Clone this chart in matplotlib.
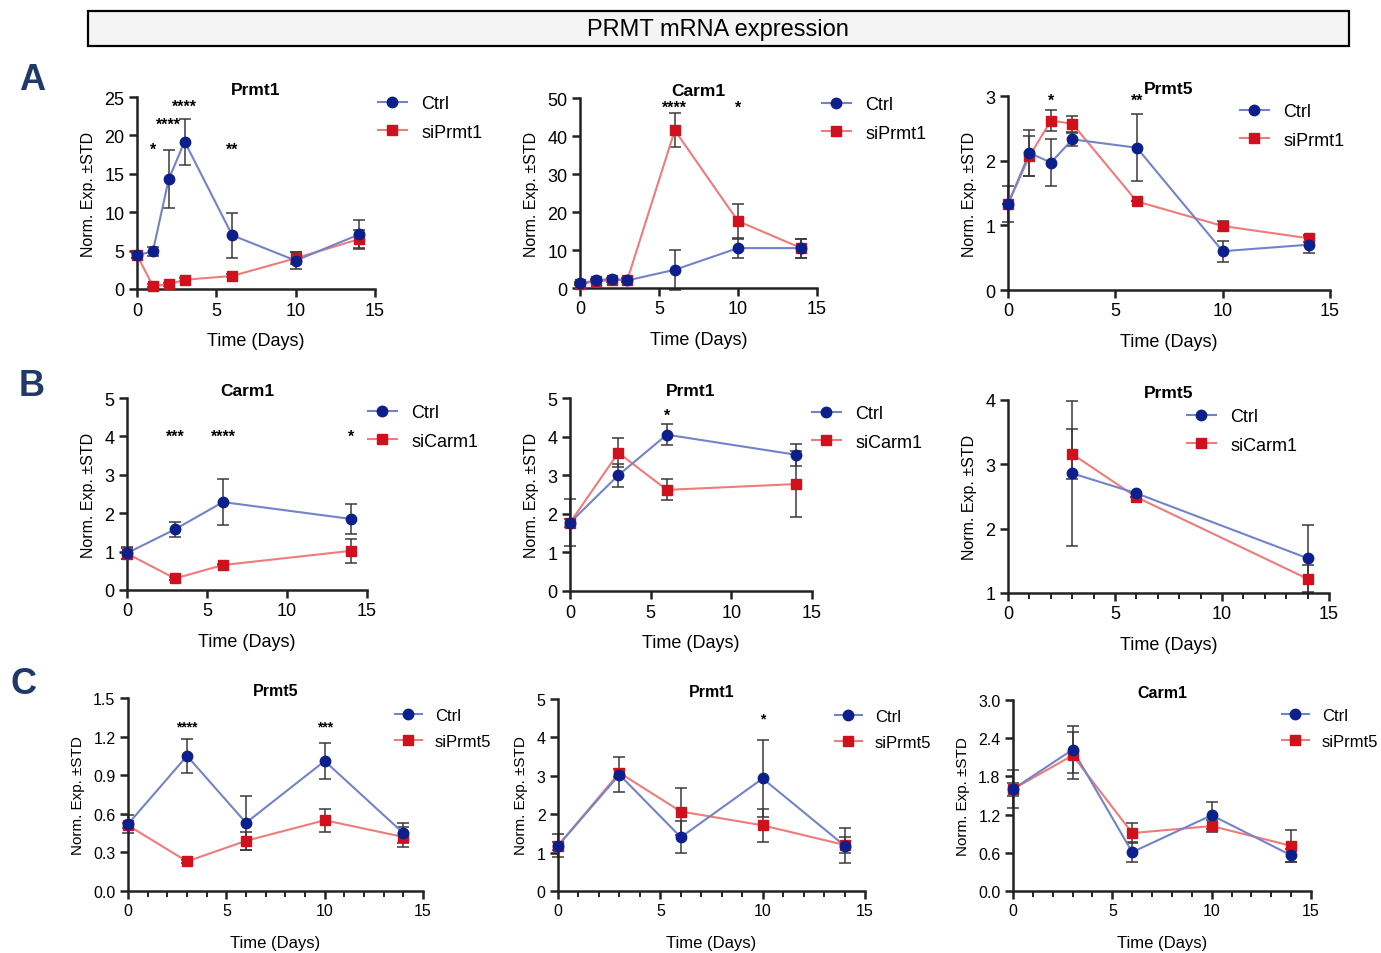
import matplotlib
matplotlib.use("Agg")
import matplotlib.pyplot as plt
from matplotlib.patches import Rectangle
from matplotlib.ticker import MultipleLocator, FormatStrFormatter

plt.rcParams['font.family'] = ['Liberation Sans', 'DejaVu Sans']

# ---------------- data ----------------
# Row A: siPrmt1 knockdown
a_days = [0, 1, 2, 3, 6, 10, 14]
a1_ctrl = [4.4, 4.9, 14.3, 19.2, 7.0, 3.7, 7.1]
a1_ctrl_err = [0.3, 0.6, 3.8, 3.0, 2.9, 1.1, 1.9]
a1_si = [4.4, 0.4, 0.6, 1.2, 1.7, 4.0, 6.5]
a1_si_err = [0.3, 0.2, 0.2, 0.2, 0.2, 0.8, 1.2]

a2_ctrl = [1.2, 2.0, 2.4, 2.0, 4.8, 10.5, 10.5]
a2_ctrl_err = [0.3, 0.3, 0.3, 0.3, 5.2, 2.7, 2.5]
a2_si = [1.0, 1.8, 2.0, 2.2, 41.5, 17.6, 10.5]
a2_si_err = [0.3, 0.3, 0.3, 0.5, 4.5, 4.6, 2.5]

a3_ctrl = [1.33, 2.12, 1.97, 2.33, 2.20, 0.60, 0.70]
a3_ctrl_err = [0.28, 0.36, 0.36, 0.10, 0.52, 0.16, 0.13]
a3_si = [1.33, 2.07, 2.62, 2.57, 1.37, 0.99, 0.80]
a3_si_err = [0.0, 0.31, 0.16, 0.12, 0.0, 0.08, 0.05]

# Row B: siCarm1 knockdown
b_days = [0, 3, 6, 14]
b1_ctrl = [0.96, 1.58, 2.29, 1.85]
b1_ctrl_err = [0.15, 0.20, 0.60, 0.39]
b1_si = [0.95, 0.30, 0.65, 1.02]
b1_si_err = [0.15, 0.03, 0.03, 0.31]

b2_ctrl = [1.77, 3.00, 4.05, 3.53]
b2_ctrl_err = [0.61, 0.30, 0.28, 0.28]
b2_si = [1.77, 3.58, 2.62, 2.77]
b2_si_err = [0.10, 0.38, 0.27, 0.85]

b3_days = [3, 6, 14]
b3_ctrl = [2.86, 2.55, 1.54]
b3_ctrl_err = [1.13, 0.0, 0.52]
b3_si = [3.16, 2.49, 1.22]
b3_si_err = [0.39, 0.0, 0.22]

# Row C: siPrmt5 knockdown
c_days = [0, 3, 6, 10, 14]
c1_ctrl = [0.52, 1.05, 0.53, 1.01, 0.45]
c1_ctrl_err = [0.07, 0.13, 0.21, 0.14, 0.08]
c1_si = [0.51, 0.23, 0.39, 0.55, 0.42]
c1_si_err = [0.02, 0.01, 0.07, 0.09, 0.08]

c2_ctrl = [1.18, 3.03, 1.40, 2.93, 1.18]
c2_ctrl_err = [0.30, 0.45, 0.41, 1.01, 0.45]
c2_si = [1.18, 3.08, 2.07, 1.71, 1.20]
c2_si_err = [0.10, 0.10, 0.60, 0.43, 0.20]

c3_ctrl = [1.60, 2.22, 0.61, 1.19, 0.56]
c3_ctrl_err = [0.30, 0.37, 0.16, 0.21, 0.10]
c3_si = [1.60, 2.13, 0.91, 1.02, 0.71]
c3_si_err = [0.10, 0.37, 0.16, 0.09, 0.25]

titles = ["Prmt1", "Carm1", "Prmt5", "Carm1", "Prmt1", "Prmt5", "Prmt5", "Prmt1", "Carm1"]
si_labels = ["siPrmt1", "siPrmt1", "siPrmt1", "siCarm1", "siCarm1", "siCarm1", "siPrmt5", "siPrmt5", "siPrmt5"]

stars_a1 = [(1, 18.2, "*"), (2, 21.5, "****"), (3, 23.8, "****"), (6, 18.2, "**")]
stars_a2 = [(6, 47.5, "****"), (10, 47.5, "*")]
stars_a3 = [(2, 2.93, "*"), (6, 2.93, "**")]
stars_b1 = [(3, 4.0, "***"), (6, 4.0, "****"), (14, 4.0, "*")]
stars_b2 = [(6, 4.55, "*")]
stars_b3 = []
stars_c1 = [(3, 1.28, "****"), (10, 1.28, "***")]
stars_c2 = [(10, 4.5, "*")]
stars_c3 = []

# ---------------- styling ----------------
W, H = 1381, 954
fig = plt.figure(figsize=(W / 100, H / 100), dpi=100)
fig.patch.set_facecolor("white")

BLUE_M = "#0d1f8c"
BLUE_L = "#7383c9"
RED_M = "#d0101c"
RED_L = "#ef7b7b"
ERR = "#3a3a3a"


def px_axes(left, right, bottom, top):
    return fig.add_axes([left / W, 1 - bottom / H, (right - left) / W, (bottom - top) / H])


panels = [
    ((137, 375, 290, 98), a_days, a1_ctrl, a1_ctrl_err, a1_si, a1_si_err, (0, 25), 5, "%d", False, stars_a1, (378, 96), "A"),
    ((580, 817, 289, 99), a_days, a2_ctrl, a2_ctrl_err, a2_si, a2_si_err, (0, 50), 10, "%d", False, stars_a2, (822, 97), "A"),
    ((1008, 1330, 291, 97), a_days, a3_ctrl, a3_ctrl_err, a3_si, a3_si_err, (0, 3), 1, "%d", False, stars_a3, (1240, 104), "A"),
    ((127, 367, 591, 399), b_days, b1_ctrl, b1_ctrl_err, b1_si, b1_si_err, (0, 5), 1, "%d", False, stars_b1, (368, 405), "B"),
    ((570, 812, 592, 399), b_days, b2_ctrl, b2_ctrl_err, b2_si, b2_si_err, (0, 5), 1, "%d", False, stars_b2, (812, 406), "B"),
    ((1008, 1329, 594, 401), b3_days, b3_ctrl, b3_ctrl_err, b3_si, b3_si_err, (1, 4), 1, "%d", True, stars_b3, (1187, 409), "B"),
    ((128, 423, 892, 699), c_days, c1_ctrl, c1_ctrl_err, c1_si, c1_si_err, (0, 1.5), 0.3, "%.1f", True, stars_c1, (395, 709), "C"),
    ((558, 865, 892, 700), c_days, c2_ctrl, c2_ctrl_err, c2_si, c2_si_err, (0, 5), 1, "%d", True, stars_c2, (835, 710), "C"),
    ((1013, 1311, 892, 701), c_days, c3_ctrl, c3_ctrl_err, c3_si, c3_si_err, (0, 3.0), 0.6, "%.1f", True, stars_c3, (1282, 709), "C"),
]

for i, (box, days, ctrl, ctrl_err, si, si_err, ylim, ystep, yfmt, minor, stars, leg, row) in enumerate(panels):
    ax = px_axes(*box)
    small = row == "C"
    fs_tick = 11.5 if small else 13
    fs_lab = 12 if small else 13
    fs_ylab = 11 if small else 11.5
    fs_title = 11.5 if small else 12.5
    fs_leg = 12 if small else 13

    ax.errorbar(days, ctrl, yerr=ctrl_err, fmt="none", ecolor=ERR, elinewidth=1.1,
                capsize=4.5, capthick=1.1, zorder=2, clip_on=False)
    ax.errorbar(days, si, yerr=si_err, fmt="none", ecolor=ERR, elinewidth=1.1,
                capsize=4.5, capthick=1.1, zorder=2, clip_on=False)
    ax.plot(days, si, color=RED_L, lw=1.5, zorder=3, clip_on=False)
    ax.plot(days, ctrl, color=BLUE_L, lw=1.5, zorder=3, clip_on=False)
    ax.plot(days, si, ls="none", marker="s", ms=6.5, color=RED_M, zorder=4, clip_on=False)
    ax.plot(days, ctrl, ls="none", marker="o", ms=7.5, color=BLUE_M, zorder=5, clip_on=False)

    # legend proxies
    h1, = ax.plot([], [], color=BLUE_L, lw=1.5, marker="o", ms=7.5, mfc=BLUE_M, mec=BLUE_M)
    h2, = ax.plot([], [], color=RED_L, lw=1.5, marker="s", ms=6.5, mfc=RED_M, mec=RED_M)
    ax.legend([h1, h2], ["Ctrl", si_labels[i]], loc="upper left",
              bbox_to_anchor=(leg[0] / W, 1 - leg[1] / H), bbox_transform=fig.transFigure,
              frameon=False, fontsize=fs_leg, borderpad=0, borderaxespad=0,
              handlelength=1.6, handletextpad=0.8, labelspacing=0.65)

    for (sx, sy, st) in stars:
        ax.text(sx, sy, st, ha="center", va="center", fontsize=fs_tick - 1.5, fontweight="bold")

    ax.set_xlim(0, 15)
    ax.set_ylim(*ylim)
    ax.xaxis.set_major_locator(MultipleLocator(5))
    if minor:
        ax.xaxis.set_minor_locator(MultipleLocator(1))
    ax.yaxis.set_major_locator(MultipleLocator(ystep))
    ax.yaxis.set_major_formatter(FormatStrFormatter(yfmt))

    for s in ["top", "right"]:
        ax.spines[s].set_visible(False)
    for s in ["left", "bottom"]:
        ax.spines[s].set_linewidth(1.8)
        ax.spines[s].set_color("#222222")
    ax.tick_params(which="major", direction="out", length=6, width=1.8, color="#222222",
                   labelsize=fs_tick, pad=3)
    ax.tick_params(which="minor", direction="out", length=4, width=1.4, color="#222222")

    ax.set_xlabel("Time (Days)", fontsize=fs_lab, labelpad=12 if small else 10)
    ax.set_ylabel("Norm. Exp. \u00b1STD", fontsize=fs_ylab, labelpad=6)
    ax.set_title(titles[i], fontsize=fs_title, fontweight="bold", pad=2)

# title box
fig.patches.append(Rectangle((88 / W, 1 - 47 / H), (1349 - 88) / W, 35 / H,
                             transform=fig.transFigure, facecolor="#f4f4f4",
                             edgecolor="black", lw=1.6))
fig.text(718 / W, 1 - 30 / H, "PRMT mRNA expression", ha="center", va="center", fontsize=17)

# panel letters
for lx, ly, lt in [(32, 80, "A"), (32, 387, "B"), (23, 685, "C")]:
    fig.text(lx / W, 1 - ly / H, lt, ha="center", va="center", fontsize=26,
             fontweight="bold", color="#1f3a68")

fig.savefig("out.png", dpi=100)
